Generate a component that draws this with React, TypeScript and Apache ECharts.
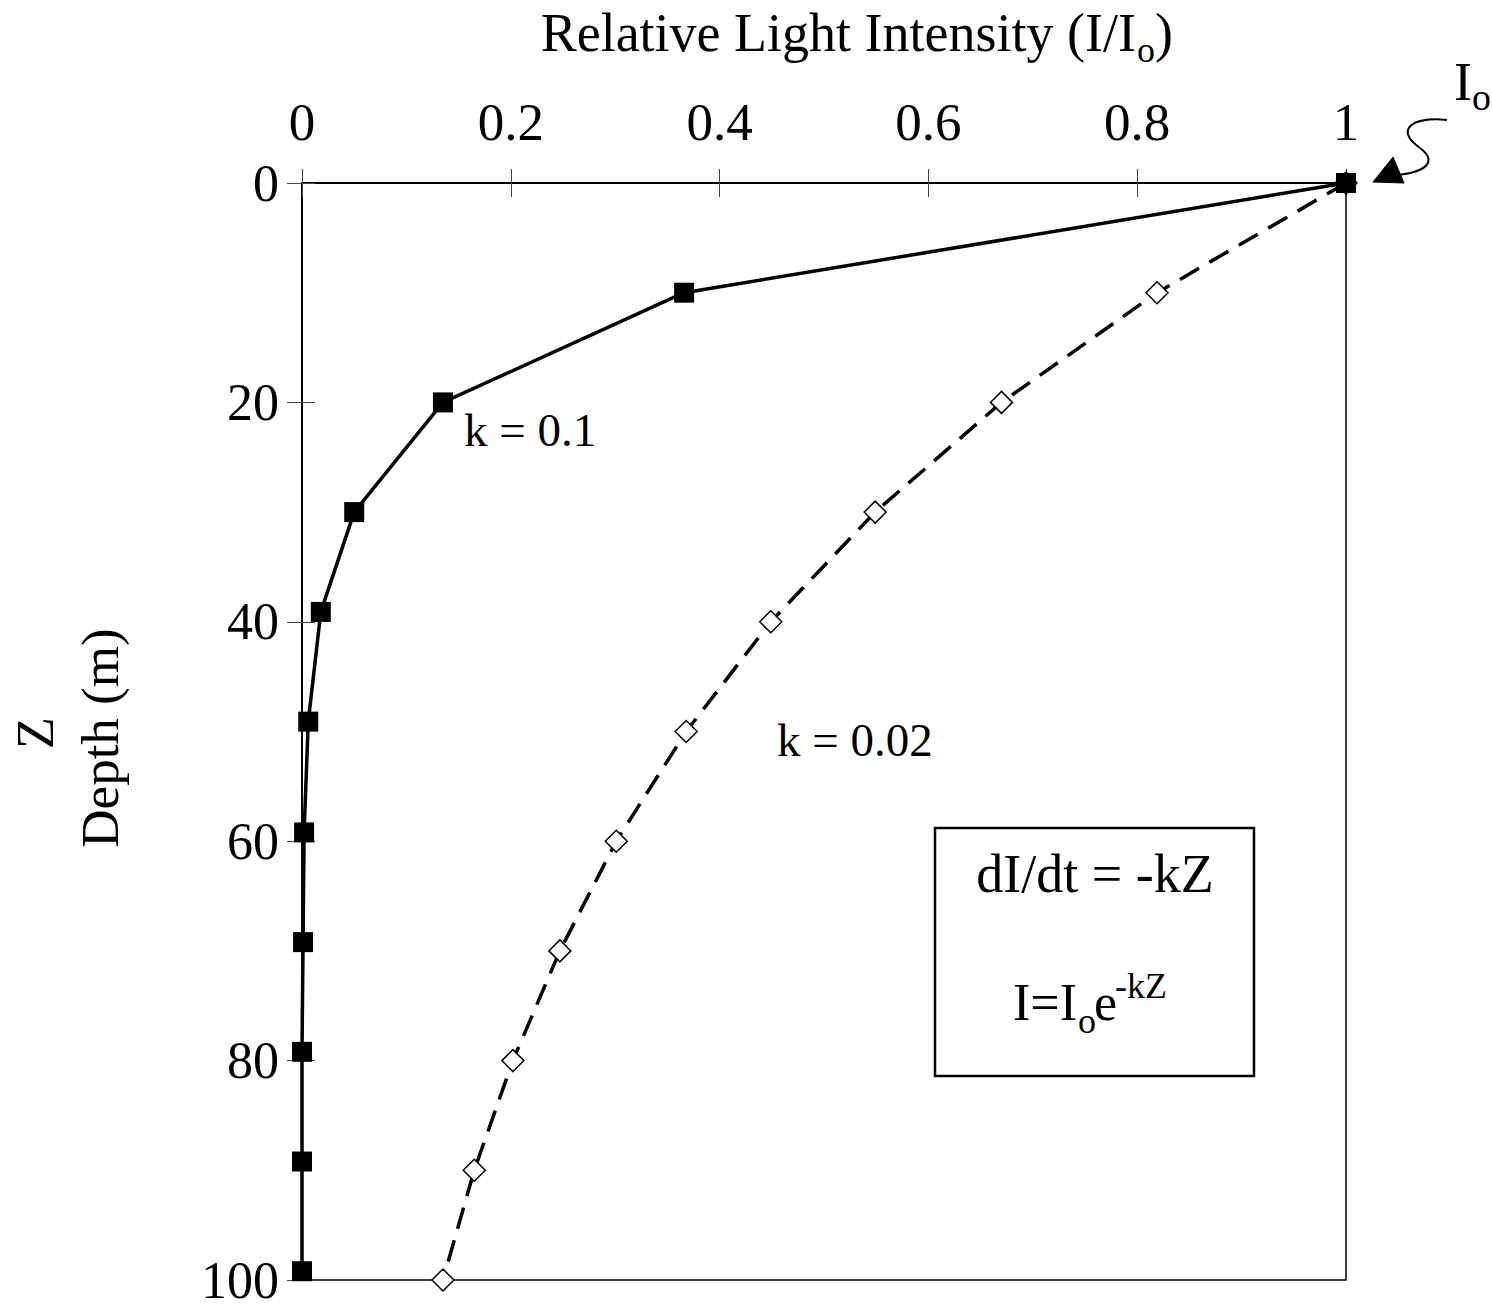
import React, { useEffect, useRef } from "react";
import * as echarts from "echarts";

// Depth (m) for each series and relative light intensity (I/Io)
const depthK002 = [0, 10, 20, 30, 40, 50, 60, 70, 80, 90, 100];
const intensityK002 = [1, 0.819, 0.67, 0.549, 0.449, 0.368, 0.301, 0.247, 0.202, 0.165, 0.135];
const depthK01 = [0, 10, 20, 30, 39.1, 49.1, 59.2, 69.2, 79.2, 89.2, 99.2];
const intensityK01 = [1, 0.366, 0.135, 0.05, 0.018, 0.006, 0.002, 0.001, 0, 0, 0];

const xTicks = [0, 0.2, 0.4, 0.6, 0.8, 1];
const yTicks = [0, 20, 40, 60, 80, 100];

const FONT = "'Liberation Serif', 'Times New Roman', serif";

function txt(x: number, y: number, text: string, size: number, align: string, extra: any = {}) {
  return {
    type: "text",
    x,
    y,
    ...extra,
    style: {
      text,
      font: `${size}px ${FONT}`,
      fill: "#000",
      textAlign: align,
      textVerticalAlign: "middle",
      align,
      verticalAlign: "middle",
    },
  };
}

export default function App() {
  const ref = useRef<HTMLDivElement>(null);
  useEffect(() => {
    document.body.style.margin = "0";
    const chart = echarts.init(ref.current!, null, { renderer: "svg" });
    const xMin = xTicks[0];
    const xMax = xTicks[xTicks.length - 1];
    const yMin = yTicks[0];
    const yMax = yTicks[yTicks.length - 1];
    const tickStyle = { color: "#444", width: 1 };
    chart.setOption({
      animation: false,
      backgroundColor: "#fff",
      grid: {
        left: 302,
        top: 183,
        right: 146,
        bottom: 27,
        show: true,
        borderColor: "#000",
        borderWidth: 1.5,
        backgroundColor: "transparent",
      },
      xAxis: [
        {
          type: "value",
          position: "top",
          min: xMin,
          max: xMax,
          interval: 0.2,
          axisLine: { show: true, onZero: false, lineStyle: { color: "#000", width: 2 } },
          axisTick: { show: true, inside: false, length: 14, lineStyle: tickStyle },
          axisLabel: {
            show: true,
            margin: 35,
            fontSize: 53,
            fontFamily: FONT,
            color: "#000",
            formatter: (v: number) => String(Math.round(v * 10) / 10),
          },
          splitLine: { show: false },
        },
        {
          type: "value",
          position: "top",
          min: xMin,
          max: xMax,
          interval: 0.2,
          axisLine: { show: false, onZero: false },
          axisTick: { show: true, inside: true, length: 14, lineStyle: tickStyle },
          axisLabel: { show: false },
          splitLine: { show: false },
        },
      ],
      yAxis: [
        {
          type: "value",
          inverse: true,
          position: "left",
          min: yMin,
          max: yMax,
          interval: 20,
          axisLine: { show: true, onZero: false, lineStyle: { color: "#000", width: 2 } },
          axisTick: { show: true, inside: false, length: 15, lineStyle: tickStyle },
          axisLabel: {
            show: true,
            margin: 23,
            fontSize: 52,
            lineHeight: 40,
            fontFamily: FONT,
            color: "#000",
          },
          splitLine: { show: false },
        },
        {
          type: "value",
          inverse: true,
          position: "left",
          min: yMin,
          max: yMax,
          interval: 20,
          axisLine: { show: false, onZero: false },
          axisTick: { show: true, inside: true, length: 13, lineStyle: tickStyle },
          axisLabel: { show: false },
          splitLine: { show: false },
        },
      ],
      series: [
        {
          name: "k = 0.02",
          type: "line",
          xAxisIndex: 0,
          yAxisIndex: 0,
          clip: false,
          data: intensityK002.map((v, i) => [v, depthK002[i]]),
          symbol: "diamond",
          symbolSize: 22,
          lineStyle: { color: "#000", width: 3.5, type: [22, 12] },
          itemStyle: { color: "#fff", borderColor: "#000", borderWidth: 1.5 },
          z: 2,
        },
        {
          name: "k = 0.1",
          type: "line",
          xAxisIndex: 0,
          yAxisIndex: 0,
          clip: false,
          data: intensityK01.map((v, i) => [v, depthK01[i]]),
          symbol: "rect",
          symbolSize: 20,
          lineStyle: { color: "#000", width: 3.5 },
          itemStyle: { color: "#000", borderWidth: 0 },
          z: 3,
        },
      ],
      graphic: [
        // Title
        txt(1136, 33, "Relative Light Intensity (I/I", 54, "right"),
        txt(1137, 50, "o", 36, "left"),
        txt(1155, 33, ")", 54, "left"),
        // Y axis name
        txt(35, 733, "Z", 52, "center", { rotation: Math.PI / 2 }),
        txt(100, 738, "Depth (m)", 53, "center", { rotation: Math.PI / 2 }),
        // Series labels
        txt(464, 430, "k = 0.1", 47, "left"),
        txt(777, 740, "k = 0.02", 47, "left"),
        // Io annotation
        txt(1454, 82, "I", 54, "left"),
        txt(1472, 97, "o", 38, "left"),
        {
          type: "bezierCurve",
          shape: { x1: 1447, y1: 120, cpx1: 1412, cpy1: 116, cpx2: 1394, cpy2: 130, x2: 1420, y2: 148 },
          style: { stroke: "#000", lineWidth: 2, fill: "none" },
        },
        {
          type: "bezierCurve",
          shape: { x1: 1420, y1: 148, cpx1: 1440, cpy1: 163, cpx2: 1422, cpy2: 173, x2: 1396, y2: 175 },
          style: { stroke: "#000", lineWidth: 2, fill: "none" },
        },
        {
          type: "polygon",
          shape: { points: [[1373, 182], [1393, 157], [1404, 183]] },
          style: { fill: "#000", stroke: "#000", lineWidth: 1 },
        },
        // Equation box
        {
          type: "rect",
          shape: { x: 935, y: 828, width: 319, height: 248 },
          style: { fill: "none", stroke: "#000", lineWidth: 2.5 },
        },
        txt(1095, 874, "dI/dt = -kZ", 54, "center"),
        txt(1077, 1002, "I=I", 52, "right"),
        txt(1078, 1021, "o", 36, "left"),
        txt(1094, 1002, "e", 52, "left"),
        txt(1115, 986, "-kZ", 36, "left"),
      ],
    });
    return () => chart.dispose();
  }, []);
  return <div ref={ref} style={{ width: 1492, height: 1307 }} />;
}
